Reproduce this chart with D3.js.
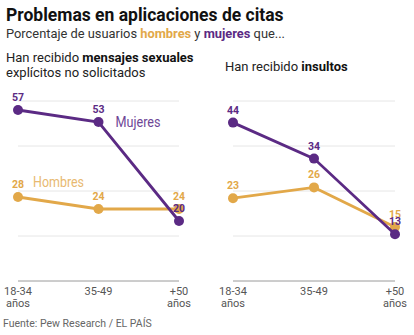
<!DOCTYPE html>
<html>
<head>
<meta charset="utf-8">
<script src="https://cdn.jsdelivr.net/npm/d3@7"></script>
<style>
  body { margin: 0; background: #fff; }
  svg { font-family: Roboto, "Noto Sans", sans-serif; }
</style>
</head>
<body>
<div id="chart"></div>
<script>
// Data
const ageGroups = ['18-34', '35-49', '+50'];
const ageLabels = [['18-34', 'años'], ['35-49'], ['+50', 'años']];
const mensajesMujeres = [57, 53, 20];
const mensajesHombres = [28, 24, 24];
const insultosMujeres = [44, 34, 13];
const insultosHombres = [23, 26, 15];

const purple = '#5b2a84';
const orange = '#e2a849';

const W = 414, H = 335;
const svg = d3.select('#chart').append('svg')
    .attr('width', W)
    .attr('height', H);

// Titles
svg.append('text')
    .attr('x', 6).attr('y', 21)
    .attr('font-size', 17.5).attr('font-weight', 700)
    .attr('fill', '#111')
    .text('Problemas en aplicaciones de citas');

const sub = svg.append('text')
    .attr('x', 6).attr('y', 38)
    .attr('font-size', 13).attr('fill', '#333')
    .attr('textLength', 279).attr('lengthAdjust', 'spacingAndGlyphs');
sub.append('tspan').text('Porcentaje de usuarios ');
sub.append('tspan').attr('fill', orange).attr('font-weight', 700).text('hombres');
sub.append('tspan').text(' y ');
sub.append('tspan').attr('fill', purple).attr('font-weight', 700).text('mujeres');
sub.append('tspan').text(' que...');

// Panels
const panels = [
    {x0: 18, x1: 179, max: 60, men: mensajesHombres, women: mensajesMujeres,
     title: [['Han recibido ', 'mensajes sexuales'], ['explícitos no solicitados', '']], titleX: 6, titleY: 62,
     legend: true},
    {x0: 233, x1: 395, max: 50, men: insultosHombres, women: insultosMujeres,
     title: [['Han recibido ', 'insultos']], titleX: 225, titleY: 71,
     legend: false}
];

panels.forEach(p => {
    const x = d3.scalePoint().domain(ageGroups).range([p.x0, p.x1]);
    const y = d3.scaleLinear().domain([0, p.max]).range([281, 101]);
    const g = svg.append('g');

    // panel title
    p.title.forEach((line, i) => {
        const t = g.append('text')
            .attr('x', p.titleX).attr('y', p.titleY + i * 14.5)
            .attr('font-size', 13).attr('fill', '#222');
        t.append('tspan').text(line[0]);
        if (line[1]) t.append('tspan').attr('font-weight', 700).attr('fill', '#111').text(line[1]);
    });

    // gridlines
    const ticks = d3.range(1, 5).map(i => p.max * i / 4);
    g.selectAll('.grid').data(ticks).enter().append('line')
        .attr('x1', p.x0).attr('x2', p.x1)
        .attr('y1', d => y(d)).attr('y2', d => y(d))
        .attr('stroke', '#e6e6e6').attr('stroke-width', 1);
    g.append('line')
        .attr('x1', p.x0).attr('x2', p.x1)
        .attr('y1', y(0)).attr('y2', y(0))
        .attr('stroke', '#9a9a9a').attr('stroke-width', 1);

    // x labels
    ageLabels.forEach((lines, i) => {
        lines.forEach((l, j) => {
            g.append('text')
                .attr('text-anchor', 'middle')
                .attr('font-size', 11).attr('fill', '#555')
                .attr('x', x(ageGroups[i])).attr('y', 295 + j * 12)
                .text(l);
        });
    });

    const line = d3.line()
        .x((d, i) => x(ageGroups[i]))
        .y(d => y(d));

    [{vals: p.men, c: orange}, {vals: p.women, c: purple}].forEach(s => {
        g.append('path')
            .datum(s.vals)
            .attr('d', line)
            .attr('fill', 'none')
            .attr('stroke', s.c)
            .attr('stroke-width', 2.8);
        g.selectAll(null).data(s.vals).enter().append('circle')
            .attr('cx', (d, i) => x(ageGroups[i]))
            .attr('cy', d => y(d))
            .attr('r', 5)
            .attr('fill', s.c);
    });

    [{vals: p.men, c: orange}, {vals: p.women, c: purple}].forEach(s => {
        g.selectAll(null).data(s.vals).enter().append('text')
            .attr('x', (d, i) => x(ageGroups[i]))
            .attr('y', d => y(d) - 9)
            .attr('text-anchor', 'middle')
            .attr('font-size', 10.5).attr('font-weight', 700)
            .attr('fill', s.c)
            .text(d => d);
    });

    if (p.legend) {
        g.append('text')
            .attr('x', x('35-49') + 17).attr('y', y(p.women[1]) + 5)
            .attr('font-size', 14).attr('fill', '#6e4696')
            .attr('textLength', 45).attr('lengthAdjust', 'spacingAndGlyphs')
            .text('Mujeres');
        g.append('text')
            .attr('x', x('18-34') + 15).attr('y', y(p.men[0]) - 10)
            .attr('font-size', 14).attr('fill', '#e8b970')
            .attr('textLength', 51).attr('lengthAdjust', 'spacingAndGlyphs')
            .text('Hombres');
    }
});

// Source
svg.append('text')
    .attr('x', 3).attr('y', 327)
    .attr('font-size', 10.5).attr('fill', '#666')
    .text('Fuente: Pew Research / EL PAÍS');
</script>
</body>
</html>
